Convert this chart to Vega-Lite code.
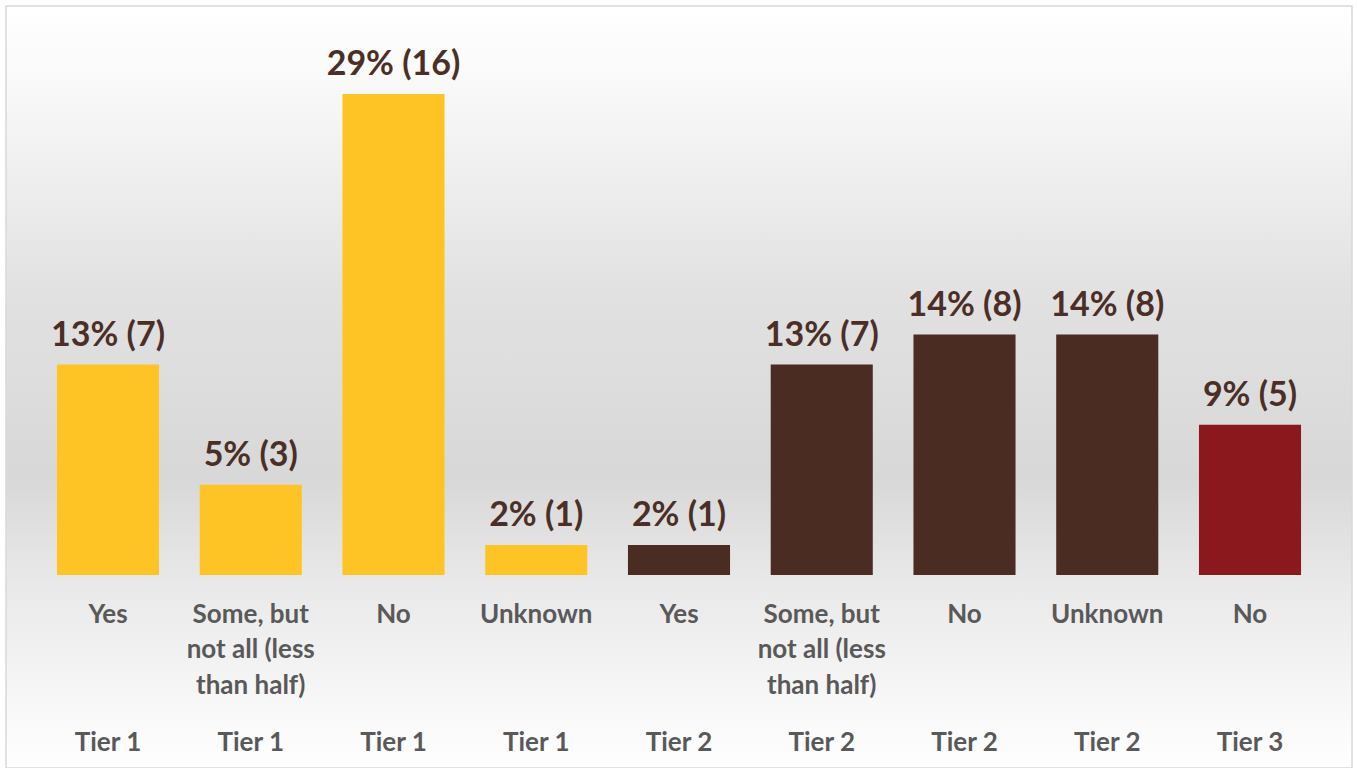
{
  "$schema": "https://vega.github.io/schema/vega-lite/v6.json",
  "width": 1346,
  "height": 762,
  "autosize": {"type": "none"},
  "padding": {"top": 6, "left": 6, "right": 5, "bottom": 0},
  "background": "#ffffff",
  "config": {
    "view": {
      "stroke": "#d9d9d9",
      "strokeWidth": 1.5,
      "fill": {
        "gradient": "linear",
        "x1": 0, "y1": 0, "x2": 0, "y2": 1,
        "stops": [
          {"offset": 0, "color": "#ffffff"},
          {"offset": 0.1, "color": "#f9f9f9"},
          {"offset": 0.38, "color": "#e1e1e1"},
          {"offset": 0.62, "color": "#d8d8d8"},
          {"offset": 0.76, "color": "#e9e9e9"},
          {"offset": 1, "color": "#ffffff"}
        ]
      }
    },
    "font": "Lato"
  },
  "data": {
    "values": [
      {"key": "Tier 1|Yes", "tier": "Tier 1", "count": 7, "label": "13% (7)"},
      {"key": "Tier 1|Some, but~not all (less~than half)", "tier": "Tier 1", "count": 3, "label": "5% (3)"},
      {"key": "Tier 1|No", "tier": "Tier 1", "count": 16, "label": "29% (16)"},
      {"key": "Tier 1|Unknown", "tier": "Tier 1", "count": 1, "label": "2% (1)"},
      {"key": "Tier 2|Yes", "tier": "Tier 2", "count": 1, "label": "2% (1)"},
      {"key": "Tier 2|Some, but~not all (less~than half)", "tier": "Tier 2", "count": 7, "label": "13% (7)"},
      {"key": "Tier 2|No", "tier": "Tier 2", "count": 8, "label": "14% (8)"},
      {"key": "Tier 2|Unknown", "tier": "Tier 2", "count": 8, "label": "14% (8)"},
      {"key": "Tier 3|No", "tier": "Tier 3", "count": 5, "label": "9% (5)"}
    ]
  },
  "layer": [
    {
      "mark": {"type": "bar"},
      "encoding": {
        "x": {
          "field": "key", "type": "nominal", "sort": null,
          "scale": {"paddingInner": 0.285, "paddingOuter": 0.357},
          "axis": {
            "orient": "bottom", "offset": -167, "domain": false, "ticks": false,
            "labelAngle": 0, "labelPadding": 0, "labelBaseline": "top",
            "labelExpr": "split(split(datum.value, '|')[1], '~')",
            "labelFont": "Lato", "labelFontSize": 26, "labelFontWeight": "bold",
            "labelColor": "#595959", "labelLineHeight": 35.5, "labelLimit": 300,
            "title": null, "grid": false
          }
        },
        "y": {
          "field": "count", "type": "quantitative",
          "scale": {"domain": [-6.42, 18.93], "nice": false, "zero": false},
          "axis": null
        },
        "y2": {"datum": 0},
        "color": {
          "field": "tier", "type": "nominal",
          "scale": {"domain": ["Tier 1", "Tier 2", "Tier 3"], "range": ["#fec325", "#4a2c23", "#8b181c"]},
          "legend": null
        }
      }
    },
    {
      "mark": {"type": "text", "baseline": "bottom", "dy": -12, "fontSize": 34, "fontWeight": "bold", "font": "Lato", "color": "#4b2f26"},
      "encoding": {
        "x": {
          "field": "key", "type": "nominal", "sort": null,
          "axis": {
            "orient": "bottom", "offset": -39, "domain": false, "ticks": false,
            "labelAngle": 0, "labelPadding": 0, "labelBaseline": "top",
            "labelExpr": "split(datum.value, '|')[0]",
            "labelFont": "Lato", "labelFontSize": 26, "labelFontWeight": "bold",
            "labelColor": "#595959", "title": null, "grid": false
          }
        },
        "y": {"field": "count", "type": "quantitative"},
        "text": {"field": "label"}
      }
    }
  ],
  "resolve": {"axis": {"x": "independent"}}
}
